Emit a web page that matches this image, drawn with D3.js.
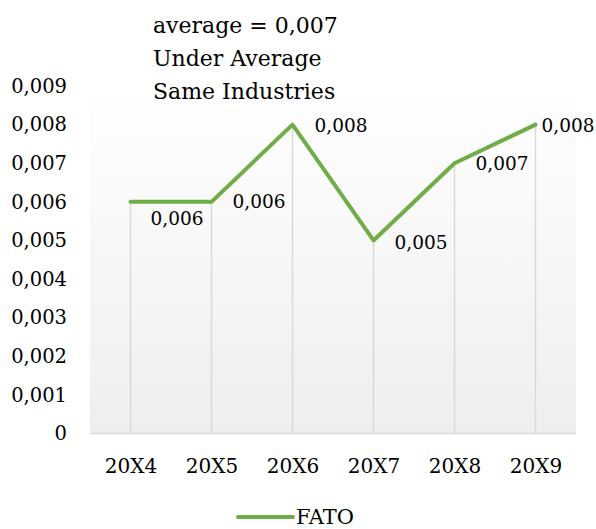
<!DOCTYPE html>
<html>
<head>
<meta charset="utf-8">
<script src="https://cdn.jsdelivr.net/npm/d3@7"></script>
<style>
  body { margin: 0; background: #fff; }
  text { font-family: "DejaVu Serif", serif; fill: #000; }
</style>
</head>
<body>
<div id="chart"></div>
<script>
// Data
const years = ['20X4', '20X5', '20X6', '20X7', '20X8', '20X9']
const fato = [0.006, 0.006, 0.008, 0.005, 0.007, 0.008]
const yTicks = [0, 0.001, 0.002, 0.003, 0.004, 0.005, 0.006, 0.007, 0.008, 0.009]
const titleLines = ['average = 0,007', 'Under Average', 'Same Industries']
const seriesName = 'FATO'

function draw() {
  // Dimensions
  const dimensions = {
    width: 596,
    height: 529,
    left: 90,
    right: 576,
    top: 86,
    bottom: 433.5
  }

  // label nudges (moved by hand in the original)
  const labelDx = [20, 21, 22, 21, 21, 6]
  const labelDy = [17, 0, 1, 2, 0, 1]

  const svg = d3.select('#chart')
    .append('svg')
    .attr('width', dimensions.width)
    .attr('height', dimensions.height)

  // plot area gradient
  const grad = svg.append('defs')
    .append('linearGradient')
    .attr('id', 'plotBg')
    .attr('x1', 0).attr('y1', 0)
    .attr('x2', 0).attr('y2', 1)
  grad.append('stop').attr('offset', '0%').attr('stop-color', '#ffffff')
  grad.append('stop').attr('offset', '100%').attr('stop-color', '#eeeeee')

  // Scales
  const xScale = d3.scalePoint()
    .domain(years)
    .range([dimensions.left, dimensions.right])
    .padding(0.5)

  const yScale = d3.scaleLinear()
    .domain([0, 0.009])
    .range([dimensions.bottom, dimensions.top])

  const locale = d3.formatLocale({ decimal: ',', thousands: '.', grouping: [3], currency: ['', ''] })
  const fmt = locale.format('.3f')
  const tickFmt = d => d === 0 ? '0' : fmt(d)

  svg.append('rect')
    .attr('x', dimensions.left)
    .attr('y', dimensions.top)
    .attr('width', dimensions.right - dimensions.left)
    .attr('height', dimensions.bottom - dimensions.top)
    .attr('fill', 'url(#plotBg)')

  // drop lines from each point to the axis
  svg.append('g')
    .selectAll('line')
    .data(fato)
    .join('line')
    .attr('x1', (d, i) => xScale(years[i]))
    .attr('x2', (d, i) => xScale(years[i]))
    .attr('y1', d => yScale(d))
    .attr('y2', yScale(0))
    .attr('stroke', '#d9d9d9')
    .attr('stroke-width', 1.5)

  // Axes
  const yAxis = d3.axisLeft(yScale)
    .tickValues(yTicks)
    .tickFormat(tickFmt)
    .tickSize(0)
    .tickPadding(23)

  svg.append('g')
    .attr('transform', `translate(${dimensions.left}, 0)`)
    .call(yAxis)
    .call(g => g.select('.domain').remove())
    .selectAll('text')
    .style('font-size', '19.5px')
    .attr('fill', '#000')

  const xAxis = d3.axisBottom(xScale)
    .tickSize(0)
    .tickPadding(25)

  const xAxisGroup = svg.append('g')
    .attr('transform', `translate(0, ${dimensions.bottom})`)
    .call(xAxis)
  xAxisGroup.select('.domain').remove()
  xAxisGroup.selectAll('text')
    .style('font-size', '20px')
    .attr('fill', '#000')

  svg.append('line')
    .attr('x1', dimensions.left)
    .attr('x2', dimensions.right)
    .attr('y1', yScale(0))
    .attr('y2', yScale(0))
    .attr('stroke', '#d9d9d9')
    .attr('stroke-width', 1.5)

  // Line
  const line = d3.line()
    .x((d, i) => xScale(years[i]))
    .y(d => yScale(d))

  svg.append('path')
    .datum(fato)
    .attr('d', line)
    .attr('fill', 'none')
    .attr('stroke', '#70ad47')
    .attr('stroke-width', 4)
    .attr('stroke-linejoin', 'round')
    .attr('stroke-linecap', 'round')

  // Data labels
  svg.append('g')
    .selectAll('text')
    .data(fato)
    .join('text')
    .attr('x', (d, i) => xScale(years[i]) + labelDx[i])
    .attr('y', (d, i) => yScale(d) + labelDy[i])
    .attr('dy', '0.35em')
    .style('font-size', '18.5px')
    .text(d => fmt(d))

  // Title
  svg.append('text')
    .attr('x', 153)
    .attr('y', 33)
    .style('font-size', '22px')
    .selectAll('tspan')
    .data(titleLines)
    .join('tspan')
    .attr('x', 153)
    .attr('dy', (d, i) => i === 0 ? 0 : 33)
    .text(d => d)

  // Legend
  const legend = svg.append('g')
  legend.append('line')
    .attr('x1', 238).attr('x2', 293)
    .attr('y1', 517).attr('y2', 517)
    .attr('stroke', '#70ad47')
    .attr('stroke-width', 4)
    .attr('stroke-linecap', 'round')
  legend.append('text')
    .attr('x', 296)
    .attr('y', 523.5)
    .style('font-size', '21px')
    .text(seriesName)
}

draw()
</script>
</body>
</html>
